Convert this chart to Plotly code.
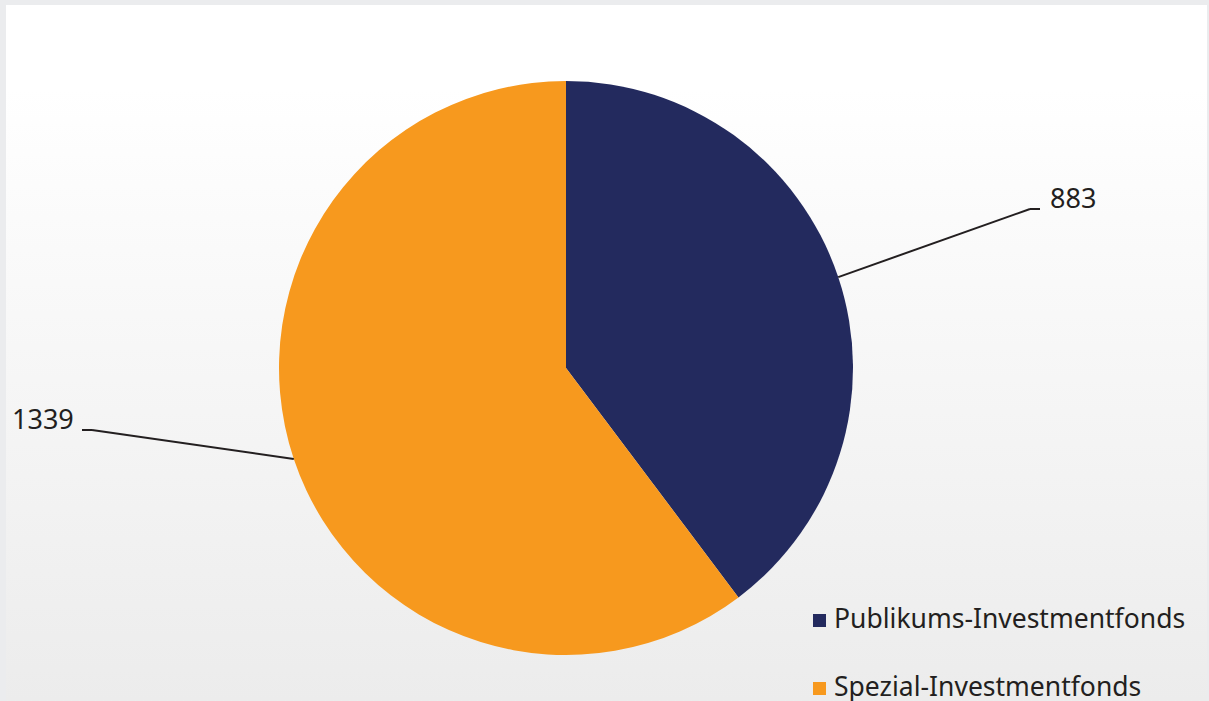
import base64
import math
import plotly.graph_objects as go

# ---- data ----
categories = ["Publikums-Investmentfonds", "Spezial-Investmentfonds"]
values = [883, 1339]
colors = ["#232A5E", "#F7991E"]

W, H = 1209, 701
CX, CY, R = 566, 368, 287  # pie centre / radius in px
INK = "#231F20"

def px(x):
    return x / W

def py(y):
    return 1 - y / H

# background gradient panel
svg = (
    '<svg xmlns="http://www.w3.org/2000/svg" width="100" height="100" preserveAspectRatio="none">'
    '<defs><linearGradient id="g" x1="0" y1="0" x2="0" y2="1">'
    '<stop offset="0.12" stop-color="#FFFFFF"/><stop offset="1" stop-color="#ECECEC"/>'
    '</linearGradient></defs><rect width="100" height="100" fill="url(#g)"/></svg>'
)
src = "data:image/svg+xml;base64," + base64.b64encode(svg.encode()).decode()

fig = go.Figure(
    go.Pie(
        labels=categories,
        values=values,
        marker=dict(colors=colors, line=dict(width=0)),
        sort=False,
        direction="clockwise",
        rotation=0,
        textinfo="none",
        hoverinfo="label+value",
        showlegend=False,
        domain=dict(x=[px(CX - R), px(CX + R)], y=[py(CY + R), py(CY - R)]),
    )
)

# leader lines + value labels, starting at slice mid-angles
total = sum(values)
label_elbows = [(1030, 209, 1040, "left"), (92, 430, 82, "right")]
shapes = []
annotations = []
cum = 0
for v, (ex, ey, hx, side) in zip(values, label_elbows):
    mid = (cum + v / 2) / total * 2 * math.pi
    cum += v
    sx = CX + R * math.sin(mid)
    sy = CY - R * math.cos(mid)
    shapes.append(dict(type="line", xref="paper", yref="paper", x0=px(sx), y0=py(sy),
                       x1=px(ex), y1=py(ey), line=dict(color=INK, width=2)))
    shapes.append(dict(type="line", xref="paper", yref="paper", x0=px(ex), y0=py(ey),
                       x1=px(hx), y1=py(ey), line=dict(color=INK, width=2)))
    ax = px(hx + 8) if side == "left" else px(hx - 6)
    annotations.append(dict(x=ax, y=py(ey + 9), xref="paper", yref="paper",
                            text=str(v), showarrow=False, xanchor=side, yanchor="bottom",
                            font=dict(size=27, color=INK)))

# legend (square swatch + label), rows 68 px apart
LEG_X, LEG_Y0, LEG_DY, SQ = 813, 614, 68, 13
for i, (name, col) in enumerate(zip(categories, colors)):
    top = LEG_Y0 + i * LEG_DY
    shapes.append(dict(type="rect", xref="paper", yref="paper", x0=px(LEG_X), x1=px(LEG_X + SQ),
                       y0=py(top + SQ), y1=py(top), fillcolor=col, line=dict(width=0)))
    annotations.append(dict(x=px(LEG_X + 19), y=py(top + 4), xref="paper", yref="paper",
                            text=name, showarrow=False, xanchor="left", yanchor="middle",
                            font=dict(size=26.5, color=INK)))

fig.update_layout(
    width=W,
    height=H,
    margin=dict(l=0, r=0, t=0, b=0),
    paper_bgcolor="#EBECEE",
    plot_bgcolor="rgba(0,0,0,0)",
    font=dict(family="Noto Sans, Open Sans, sans-serif", color=INK),
    images=[dict(source=src, xref="paper", yref="paper", x=px(6), y=py(5),
                 sizex=px(1207) - px(6), sizey=py(5) - py(701), sizing="stretch",
                 xanchor="left", yanchor="top", layer="below")],
    shapes=shapes,
    annotations=annotations,
    showlegend=False,
)

fig.write_html("out.html")
